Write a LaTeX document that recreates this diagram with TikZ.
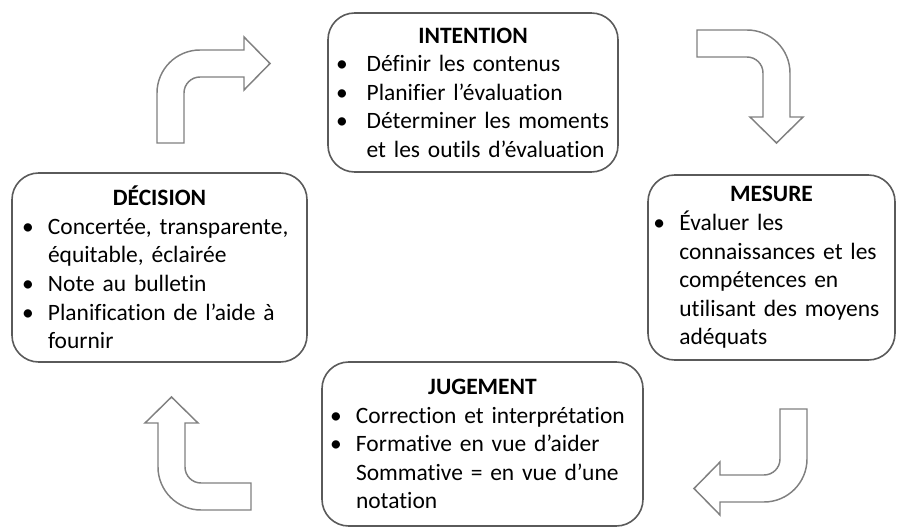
\documentclass[tikz,border=0pt]{standalone}
\usepackage{fontspec}
\setmainfont{Carlito}[Ligatures=NoCommon]
\usepackage{xcolor}
\usetikzlibrary{calc}
\definecolor{boxgray}{HTML}{5A5A5A}
\definecolor{arrowgray}{HTML}{808080}
\newlength{\itmindent}
\setlength{\itmindent}{19.5pt}
\newcommand{\titre}[1]{{\centering\bfseries #1\par}}
\newcommand{\itm}{\par\noindent\makebox[\itmindent][l]{\textbullet}}
\newcommand{\cnt}{\par\noindent\hspace*{\itmindent}}
\newcommand{\turnarrow}[3]{
    \draw[cyclearrow, shift={(#1,#2)}, rotate=#3]
        (0,0) -- (0,50) arc[start angle=180, end angle=90, radius=43]
        -- (87,93) -- (87,106) -- (113,79.5) -- (87,53) -- (87,66)
        -- (43,66) arc[start angle=90, end angle=180, radius=16]
        -- (27,0) -- cycle;
}

\begin{document}
\begin{tikzpicture}[x=0.75pt, y=0.75pt,
    stage/.style={draw=boxgray, line width=1.2pt, rounded corners=20pt,
        fill=white, align=left, inner xsep=7.5pt, inner ysep=0pt,
        font=\fontsize{17.6}{21.4}\selectfont},
    cyclearrow/.style={draw=arrowgray, line width=1.1pt, fill=white}]

    \useasboundingbox (0,0) rectangle (903,529);

    % Four steps of the cycle
    \node[stage, minimum width=217.5pt, minimum height=119.25pt, text width=205.5pt,
        inner xsep=6pt]
        (intention) at (473,436.5) {\setlength{\itmindent}{23pt}\titre{INTENTION}
        \itm Définir les contenus
        \itm Planifier l’évaluation
        \itm Déterminer les moments
        \cnt et les outils d’évaluation};

    \node[stage, minimum width=185.25pt, minimum height=138.75pt, text width=177.25pt,
        inner xsep=4pt]
        (mesure) at (771.5,261.5) {\titre{MESURE}
        \itm Évaluer les
        \cnt connaissances et les
        \cnt compétences en
        \cnt utilisant des moyens
        \cnt adéquats};

    \node[stage, minimum width=240.75pt, minimum height=123pt, text width=228.75pt,
        inner xsep=6pt]
        (jugement) at (482.5,85) {\titre{JUGEMENT}
        \itm Correction et interprétation
        \itm Formative en vue d’aider
        \cnt Sommative = en vue d’une
        \cnt notation};

    \node[stage, minimum width=221.25pt, minimum height=141.75pt, text width=206.25pt]
        (decision) at (159.5,261.5) {\titre{DÉCISION}
        \itm Concertée, transparente,
        \cnt équitable, éclairée
        \itm Note au bulletin
        \itm Planification de l’aide à
        \cnt fournir};

    % Bent arrows between the steps
    \turnarrow{157}{386}{0}
    \turnarrow{697}{499}{-90}
    \turnarrow{807}{120}{180}
    \turnarrow{251}{19}{90}

\end{tikzpicture}
\end{document}
